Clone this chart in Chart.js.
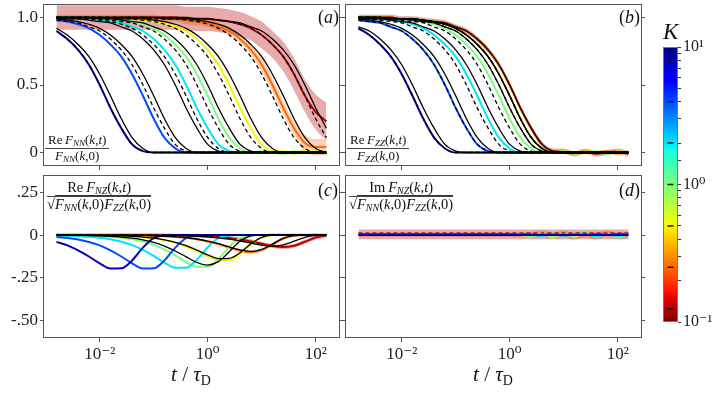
<!DOCTYPE html>
<html>
<head>
<meta charset="utf-8">
<script src="https://cdn.jsdelivr.net/npm/chart.js@4.4.1/dist/chart.umd.min.js"></script>
<style>
  body { margin: 0; background: #fff; }
  #wrap { position: relative; width: 714px; height: 394px; overflow: hidden; font-family: 'Liberation Serif', 'DejaVu Serif', serif; color: #111; }
  .box { position: absolute; }
  .txt { position: absolute; white-space: nowrap; line-height: 1; }
  .frac { position: absolute; display: inline-block; font-size: 13px; line-height: 14px; text-align: center; white-space: nowrap; }
  .frac .num { border-bottom: 1px solid #444; padding: 0 3px 1px; }
  .frac sub { font-size: 9px; vertical-align: -2px; line-height: 0; }
  .frac.wide { font-size: 14.5px; line-height: 15px; }
  .frac.wide sub { font-size: 10px; }
  .rad { border-top: 1px solid #333; }
</style>
</head>
<body>
<div id="wrap">
  <div class="box" style="left:0;top:0"><canvas id="pa" width="350" height="172"></canvas></div>
  <div class="box" style="left:300px;top:0"><canvas id="pb" width="350" height="172"></canvas></div>
  <div class="box" style="left:0;top:170px"><canvas id="pc" width="350" height="224"></canvas></div>
  <div class="box" style="left:300px;top:170px"><canvas id="pd" width="350" height="224"></canvas></div>
  <div class="box" style="left:640px;top:30px"><canvas id="cbar" width="74" height="310"></canvas></div>

  <div class="txt" style="left:318px;top:8px;font-size:18px">(<i>a</i>)</div>
  <div class="txt" style="left:619px;top:8px;font-size:18px">(<i>b</i>)</div>
  <div class="txt" style="left:318px;top:181px;font-size:18px">(<i>c</i>)</div>
  <div class="txt" style="left:619px;top:181px;font-size:18px">(<i>d</i>)</div>

  <div class="frac" style="left:45px;top:133px"><div class="num">Re&thinsp;<i>F</i><sub><i>NN</i></sub>(<i>k</i>,<i>t</i>)</div><div><i>F</i><sub><i>NN</i></sub>(<i>k</i>,0)</div></div>
  <div class="frac" style="left:347px;top:133px"><div class="num">Re&thinsp;<i>F</i><sub><i>ZZ</i></sub>(<i>k</i>,<i>t</i>)</div><div><i>F</i><sub><i>ZZ</i></sub>(<i>k</i>,0)</div></div>
  <div class="frac wide" style="left:47px;top:180px"><div class="num">Re&thinsp;<i>F</i><sub><i>NZ</i></sub>(<i>k</i>,<i>t</i>)</div><div>√<span class="rad"><i>F</i><sub><i>NN</i></sub>(<i>k</i>,0)<i>F</i><sub><i>ZZ</i></sub>(<i>k</i>,0)</span></div></div>
  <div class="frac wide" style="left:349px;top:180px"><div class="num">Im&thinsp;<i>F</i><sub><i>NZ</i></sub>(<i>k</i>,<i>t</i>)</div><div>√<span class="rad"><i>F</i><sub><i>NN</i></sub>(<i>k</i>,0)<i>F</i><sub><i>ZZ</i></sub>(<i>k</i>,0)</span></div></div>

  <div class="txt" style="left:191px;top:364px;font-size:21px;transform:translateX(-50%)"><i>t</i> / <i>τ</i><span style="font-size:14px;position:relative;top:4px">D</span></div>
  <div class="txt" style="left:493px;top:364px;font-size:21px;transform:translateX(-50%)"><i>t</i> / <i>τ</i><span style="font-size:14px;position:relative;top:4px">D</span></div>
  <div class="txt" style="left:663px;top:20px;font-size:23px"><i>K</i></div>
</div>
<script>
// sample times t / tau_D
const times = [0.00158,0.00251,0.00398,0.00631,0.01,0.0158,0.0251,0.0398,0.0631,0.1,0.158,0.251,0.398,0.631,1,1.58,2.51,3.98,6.31,10,15.8,25.1,39.8,63.1,100,158];
const kValues = [8, 4, 2, 1, 0.5, 0.25, 0.125];
const kColors = ['#0000b7', '#004bff', '#00e4f8', '#7bff7b', '#f8f500', '#ff6700', '#b70000'];

const xTicks = [0.01, 1, 100];
const xTickLabels = ['10⁻²', '10⁰', '10²'];
const yTicksTop = [0, 0.5, 1];
const yTickLabelsTop = ['0', '0.5', '1.0'];
const yTicksBottom = [-0.5, -0.25, 0, 0.25];
const yTickLabelsBottom = ['-.50', '-.25', '0', '.25'];
const cbarLabels = ['10⁻¹', '10⁰', '10¹'];

// (a) Re F_NN / F_NN(k,0)
const nnColored = [
  [0.90,0.84,0.76,0.65,0.50,0.33,0.18,0.06,0.01,0,0,0,0,0,0,0,0,0,0,0,0,0,0,0,0,0],
  [0.98,0.97,0.95,0.92,0.87,0.80,0.71,0.58,0.42,0.25,0.11,0.03,0,0,0,0,0,0,0,0,0,0,0,0,0,0],
  [1,1,0.99,0.99,0.98,0.97,0.96,0.93,0.90,0.84,0.76,0.65,0.50,0.33,0.18,0.06,0.01,0,0,0,0,0,0,0,0,0],
  [1,1,1,0.99,0.99,0.99,0.98,0.97,0.95,0.92,0.87,0.80,0.71,0.58,0.42,0.25,0.11,0.03,0,0.01,0,-0.01,0.01,0,0.01,0],
  [1,1,1,1,1,1,0.99,0.99,0.98,0.97,0.96,0.93,0.90,0.84,0.76,0.65,0.50,0.33,0.18,0.06,0.01,0.01,-0.01,0.02,0.01,-0.01],
  [1,1,1,1,1,1,1,1,1,1,0.99,0.99,0.98,0.97,0.96,0.93,0.90,0.84,0.76,0.65,0.50,0.33,0.18,0.07,0.04,0.04],
  [1,1,1,1,1,1,1,1,1,1,1,1,0.99,0.99,0.99,0.98,0.97,0.95,0.92,0.87,0.80,0.71,0.58,0.42,0.30,0.23]
];
const nnDashed = [
  [0.90,0.84,0.76,0.65,0.50,0.33,0.18,0.06,0.01,0,0,0,0,0,0,0,0,0,0,0,0,0,0,0,0,0],
  [0.98,0.97,0.96,0.93,0.90,0.84,0.76,0.65,0.50,0.33,0.18,0.06,0.01,0,0,0,0,0,0,0,0,0,0,0,0,0],
  [1,0.99,0.99,0.99,0.98,0.97,0.95,0.92,0.87,0.80,0.71,0.58,0.42,0.25,0.11,0.03,0,0,0,0,0,0,0,0,0,0],
  [1,1,1,0.99,0.99,0.98,0.97,0.96,0.93,0.90,0.84,0.76,0.65,0.50,0.33,0.18,0.06,0.01,0,0,0,0,0,0,0,0],
  [1,1,1,1,1,0.99,0.99,0.99,0.98,0.97,0.95,0.92,0.87,0.80,0.71,0.58,0.42,0.25,0.11,0.03,0,0,0,0,0,0],
  [1,1,1,1,1,1,1,1,1,0.99,0.99,0.99,0.98,0.97,0.95,0.92,0.87,0.80,0.71,0.58,0.42,0.25,0.11,0.03,0,0],
  [1,1,1,1,1,1,1,1,1,1,1,1,0.99,0.99,0.99,0.98,0.97,0.95,0.92,0.87,0.80,0.71,0.58,0.42,0.25,0.11]
];
const nnSolid = [
  [0.92,0.87,0.80,0.71,0.58,0.42,0.25,0.11,0.03,0,0,0,0,0,0,0,0,0,0,0,0,0,0,0,0,0],
  [0.99,0.98,0.97,0.95,0.92,0.87,0.80,0.71,0.58,0.42,0.25,0.11,0.03,0,0,0,0,0,0,0,0,0,0,0,0,0],
  [1,0.99,0.99,0.98,0.97,0.96,0.93,0.90,0.84,0.76,0.65,0.50,0.33,0.18,0.06,0.01,0,0,0,0,0,0,0,0,0,0],
  [1,1,1,1,0.99,0.99,0.98,0.97,0.96,0.93,0.90,0.84,0.76,0.65,0.50,0.33,0.18,0.06,0.01,0,0,0,0,0,0,0],
  [1,1,1,1,1,1,0.99,0.99,0.99,0.98,0.97,0.95,0.92,0.87,0.80,0.71,0.58,0.42,0.25,0.11,0.03,0,0,0,0,0],
  [1,1,1,1,1,1,1,1,1,1,0.99,0.99,0.99,0.98,0.97,0.95,0.92,0.87,0.80,0.71,0.58,0.42,0.25,0.11,0.03,0],
  [1,1,1,1,1,1,1,1,1,1,1,1,1,0.99,0.99,0.98,0.97,0.96,0.93,0.90,0.84,0.76,0.65,0.50,0.33,0.18]
];
const nnBandRed = [0.09,0.09,0.09,0.09,0.09,0.09,0.09,0.09,0.09,0.09,0.09,0.09,0.09,0.09,0.09,0.09,0.09,0.09,0.09,0.10,0.10,0.11,0.12,0.12,0.13,0.14];
const nnBandOrange = [0.02,0.02,0.02,0.02,0.02,0.02,0.02,0.02,0.02,0.02,0.02,0.02,0.03,0.03,0.03,0.03,0.03,0.03,0.03,0.05,0.05,0.05,0.05,0.06,0.06,0.06];

// (b) Re F_ZZ / F_ZZ(k,0)
const zzColored = [
  [0.92,0.87,0.80,0.71,0.58,0.42,0.25,0.11,0.03,0,0,0,0,0,0,0,0,0,0,0,0,0,0,0,0,0],
  [0.98,0.97,0.96,0.93,0.90,0.84,0.76,0.65,0.50,0.33,0.18,0.06,0.01,0,0,0,0,0,0,0,0,0,0,0,0,0],
  [0.99,0.99,0.99,0.98,0.97,0.95,0.92,0.87,0.80,0.71,0.58,0.42,0.25,0.11,0.03,0,0,0,0,0,0,0,0,0,0,0],
  [1,1,0.99,0.99,0.99,0.98,0.97,0.95,0.92,0.87,0.80,0.71,0.58,0.42,0.25,0.11,0.03,0,0,0.01,-0.01,0,0.01,-0.01,0,0.01],
  [1,1,1,0.99,0.99,0.99,0.98,0.97,0.95,0.92,0.87,0.80,0.71,0.58,0.42,0.25,0.11,0.03,0,0.01,-0.01,0.01,0,-0.01,0.01,0],
  [1,1,1,1,0.99,0.99,0.98,0.97,0.96,0.93,0.90,0.84,0.76,0.65,0.50,0.33,0.18,0.06,0.01,0,-0.01,0.01,0,0.01,-0.01,0],
  [1,1,1,1,0.99,0.99,0.98,0.97,0.96,0.93,0.90,0.84,0.76,0.65,0.50,0.33,0.18,0.06,0.01,0.01,-0.01,0.01,-0.01,0,0.01,-0.01]
];
const zzDashed = [
  [0.92,0.87,0.80,0.71,0.58,0.42,0.25,0.11,0.03,0,0,0,0,0,0,0,0,0,0,0,0,0,0,0,0,0],
  [0.98,0.97,0.96,0.93,0.90,0.84,0.76,0.65,0.50,0.33,0.18,0.06,0.01,0,0,0,0,0,0,0,0,0,0,0,0,0],
  [0.99,0.99,0.98,0.97,0.96,0.93,0.90,0.84,0.76,0.65,0.50,0.33,0.18,0.06,0.01,0,0,0,0,0,0,0,0,0,0,0],
  [1,1,0.99,0.99,0.98,0.97,0.96,0.93,0.90,0.84,0.76,0.65,0.50,0.33,0.18,0.06,0.01,0,0,0,0,0,0,0,0,0],
  [1,1,1,0.99,0.99,0.98,0.97,0.96,0.93,0.90,0.84,0.76,0.65,0.50,0.33,0.18,0.06,0.01,0,0,0,0,0,0,0,0],
  [1,1,1,0.99,0.99,0.99,0.98,0.97,0.95,0.92,0.87,0.80,0.71,0.58,0.42,0.25,0.11,0.03,0,0,0,0,0,0,0,0],
  [1,1,1,0.99,0.99,0.99,0.98,0.97,0.95,0.92,0.87,0.80,0.71,0.58,0.42,0.25,0.11,0.03,0,0,0,0,0,0,0,0]
];
const zzSolid = [
  [0.93,0.90,0.84,0.76,0.65,0.50,0.33,0.18,0.06,0.01,0,0,0,0,0,0,0,0,0,0,0,0,0,0,0,0],
  [0.99,0.98,0.97,0.95,0.92,0.87,0.80,0.71,0.58,0.42,0.25,0.11,0.03,0,0,0,0,0,0,0,0,0,0,0,0,0],
  [1,0.99,0.99,0.98,0.97,0.96,0.93,0.90,0.84,0.76,0.65,0.50,0.33,0.18,0.06,0.01,0,0,0,0,0,0,0,0,0,0],
  [1,1,1,0.99,0.99,0.98,0.97,0.96,0.93,0.90,0.84,0.76,0.65,0.50,0.33,0.18,0.06,0.01,0,0,0,0,0,0,0,0],
  [1,1,1,0.99,0.99,0.99,0.98,0.97,0.95,0.92,0.87,0.80,0.71,0.58,0.42,0.25,0.11,0.03,0,0,0,0,0,0,0,0],
  [1,1,1,0.99,0.99,0.99,0.98,0.97,0.95,0.92,0.87,0.80,0.71,0.58,0.42,0.25,0.11,0.03,0,0,0,0,0,0,0,0],
  [1,1,1,1,0.99,0.99,0.98,0.97,0.96,0.93,0.90,0.84,0.76,0.65,0.50,0.33,0.18,0.06,0.01,0,0,0,0,0,0,0]
];
const zzBandRed = [0.02,0.02,0.02,0.02,0.02,0.02,0.02,0.02,0.02,0.02,0.02,0.02,0.02,0.02,0.02,0.02,0.02,0.02,0.02,0.02,0.02,0.02,0.02,0.02,0.02,0.02];

// (c) Re F_NZ / sqrt(F_NN F_ZZ)
const nzColored = [
  [-0.040,-0.060,-0.089,-0.125,-0.165,-0.195,-0.194,-0.148,-0.073,-0.018,-0.002,0,0,0,0,0,0,0,0,0,0,0,0,0,0,0],
  [-0.011,-0.017,-0.026,-0.040,-0.060,-0.089,-0.125,-0.165,-0.195,-0.194,-0.148,-0.073,-0.018,-0.002,0,0,0,0,0,0,0,0,0,0,0,0],
  [-0.003,-0.004,-0.007,-0.010,-0.016,-0.025,-0.039,-0.059,-0.087,-0.122,-0.161,-0.190,-0.190,-0.144,-0.071,-0.018,-0.002,0,0,0,0,0,0,0,0,0],
  [-0.001,-0.002,-0.003,-0.004,-0.006,-0.010,-0.016,-0.025,-0.038,-0.057,-0.084,-0.119,-0.157,-0.185,-0.185,-0.140,-0.069,-0.017,-0.002,0,0.004,0,0.005,0,0.004,0],
  [0,-0.001,-0.001,-0.001,-0.002,-0.003,-0.005,-0.008,-0.012,-0.020,-0.030,-0.045,-0.067,-0.094,-0.124,-0.146,-0.146,-0.111,-0.055,-0.014,-0.001,0.004,0,0.005,0.003,0],
  [0,0,0,0,0,-0.001,-0.001,-0.002,-0.003,-0.004,-0.007,-0.010,-0.016,-0.025,-0.037,-0.053,-0.073,-0.091,-0.100,-0.088,-0.055,-0.020,-0.003,0,0,0],
  [0,0,0,0,0,0,0,0,0,0,-0.001,-0.002,-0.003,-0.005,-0.007,-0.011,-0.017,-0.026,-0.037,-0.051,-0.064,-0.070,-0.062,-0.039,-0.014,-0.002]
];
const nzSolid = [
  null,
  null,
  null,
  [0,-0.001,-0.002,-0.003,-0.005,-0.007,-0.012,-0.018,-0.028,-0.043,-0.064,-0.093,-0.127,-0.160,-0.175,-0.155,-0.097,-0.035,-0.005,0,0,0,0,0,0,0],
  [0,0,-0.001,-0.001,-0.002,-0.003,-0.005,-0.007,-0.012,-0.018,-0.028,-0.042,-0.062,-0.088,-0.116,-0.137,-0.136,-0.103,-0.051,-0.013,-0.001,0,0,0,0,0],
  [0,0,0,0,0,0,0,-0.002,-0.003,-0.004,-0.006,-0.010,-0.015,-0.023,-0.035,-0.050,-0.069,-0.087,-0.095,-0.084,-0.053,-0.019,-0.003,0,0,0],
  [0,0,0,0,0,0,0,0,0,-0.001,-0.002,-0.003,-0.004,-0.007,-0.010,-0.016,-0.024,-0.035,-0.047,-0.059,-0.065,-0.057,-0.036,-0.013,-0.002,0]
];
const nzDashed = [0,0,0,0,0,0,0,0,0,0,0,0,0,0,0,0,0,0,0,0,0,0,0,0,0,0];
const nzBandRed = [0.01,0.01,0.01,0.01,0.01,0.01,0.01,0.01,0.01,0.01,0.01,0.01,0.01,0.01,0.01,0.01,0.012,0.012,0.012,0.012,0.012,0.012,0.012,0.012,0.012,0.012];
const nzBandOrange = [0.006,0.006,0.006,0.006,0.006,0.006,0.006,0.006,0.006,0.006,0.006,0.006,0.006,0.006,0.006,0.006,0.008,0.008,0.008,0.008,0.008,0.008,0.008,0.008,0.008,0.008];

// (d) Im F_NZ / sqrt(F_NN F_ZZ)
const imColored = [
  [0,0,0,0,0,0,0,0,0,0,0,0,0,0,0,0,0,0,0,0,0,0,0,0,0,0],
  [0.002,0.002,0.002,0.002,0.002,0.002,0.002,0.002,0.002,0.002,0.002,0.002,0.002,0.002,0.002,0.002,0.002,0.002,0.002,0.002,0.002,0.002,0.002,0.002,0.002,0.002],
  [0,0,0,0,0,0,0,0,0,0,0,0,0,0,0,0,0.004,-0.006,0.008,-0.004,0.006,0.010,-0.008,0.004,-0.006,0.002],
  [0,0,0,0,0,0,0,0,0,0,0,0,0,0,0,0.003,-0.008,0.010,-0.010,0.012,-0.006,0.015,-0.010,0.008,-0.012,0.006],
  [0,0,0,0,0,0,0,0,0,0,0,0,0,0,0,0,-0.010,0.012,-0.015,0.008,-0.012,0.015,-0.008,0.010,-0.014,0.006],
  [0,0,0,0,0,0,0,0,0,0,0,0,0,0,0,0,0,0.008,-0.006,0.010,-0.010,0.006,-0.008,0.010,-0.006,0.004],
  [0.004,0.004,0.004,0.004,0.004,0.004,0.004,0.004,0.004,0.004,0.004,0.004,0.004,0.004,0.004,0.004,0.004,0.004,0.004,0.004,0.004,0.004,0.004,0.004,0.004,0.004]
];
const imDashed = [0.012,0.012,0.012,0.012,0.012,0.012,0.012,0.012,0.012,0.012,0.012,0.012,0.012,0.012,0.012,0.012,0.012,0.012,0.012,0.012,0.012,0.012,0.012,0.012,0.012,0.012];
const imBandRed = [0.028,0.028,0.028,0.028,0.028,0.028,0.028,0.028,0.028,0.028,0.028,0.028,0.028,0.028,0.028,0.028,0.028,0.028,0.028,0.028,0.028,0.028,0.028,0.028,0.028,0.028];
const imBandOrange = [0.012,0.012,0.012,0.012,0.012,0.012,0.012,0.012,0.012,0.012,0.012,0.012,0.012,0.012,0.012,0.012,0.018,0.018,0.018,0.018,0.018,0.018,0.018,0.018,0.018,0.018];

// jet colormap stops, top of the colour bar (K = 10) first
const cmapStops = [
  [0, 'rgb(0,0,128)'], [0.11, 'rgb(0,0,255)'], [0.125, 'rgb(0,0,255)'], [0.34, 'rgb(0,219,255)'],
  [0.35, 'rgb(0,229,247)'], [0.375, 'rgb(20,255,226)'], [0.64, 'rgb(239,255,8)'], [0.65, 'rgb(247,245,0)'],
  [0.66, 'rgb(255,236,0)'], [0.89, 'rgb(255,19,0)'], [0.91, 'rgb(232,0,0)'], [1, 'rgb(128,0,0)']
];

const xMin = 0.00089, xMax = 282;
const frameColor = '#555';
Chart.defaults.font.family = "'Liberation Serif', 'DejaVu Serif', serif";
Chart.defaults.color = '#222';

const frame = {
  id: 'frame',
  afterDatasetsDraw(chart) {
    const { ctx, chartArea: a } = chart;
    ctx.save();
    ctx.strokeStyle = chart.options.frameColor || frameColor;
    ctx.lineWidth = 1;
    ctx.strokeRect(a.left + 0.5, a.top + 0.5, a.width - 1, a.height - 1);
    ctx.restore();
  }
};

function pts(arr) {
  return arr.map((v, i) => ({ x: times[i], y: v }));
}

function curve(arr, color, width, dash, order) {
  return {
    data: pts(arr), borderColor: color, borderWidth: width, borderDash: dash || [],
    pointRadius: 0, fill: false, cubicInterpolationMode: 'monotone', order: order
  };
}

function band(center, half, color) {
  const up = center.map((v, i) => v + half[i]);
  const lo = center.map((v, i) => v - half[i]);
  return [
    { data: pts(up), borderColor: 'rgba(0,0,0,0)', borderWidth: 1, pointRadius: 0, fill: false, cubicInterpolationMode: 'monotone', order: 9 },
    { data: pts(lo), borderColor: 'rgba(0,0,0,0)', borderWidth: 1, pointRadius: 0, fill: '-1', backgroundColor: color, cubicInterpolationMode: 'monotone', order: 9 }
  ];
}

function panelSets(bands, colored, solid, dashed, dashColor) {
  const sets = [];
  bands.forEach(b => sets.push(...band(b[0], b[1], b[2])));
  colored.forEach((arr, k) => sets.push(curve(arr, kColors[k], 2, null, 3)));
  solid.forEach(arr => { if (arr) sets.push(curve(arr, '#000', 1.3, null, 2)); });
  dashed.forEach(arr => sets.push(curve(arr, dashColor || '#000', 1.3, [4, 3], 1)));
  return sets;
}

// fixed axis sizes so the plot boxes land where they are in the figure
function fixY(w) {
  return s => { s.width = w; s.paddingTop = 0; s.paddingBottom = 0; };
}
function fixX(h) {
  return s => { s.height = h; s.paddingLeft = 0; s.paddingRight = 0; };
}

function panelOptions(c) {
  const yTickSet = s => { s.ticks = c.yTicks.map(v => ({ value: v })); };
  return {
    responsive: false, animation: false, events: [],
    layout: { padding: { top: c.top, left: 0, right: 0, bottom: 0 } },
    plugins: { legend: { display: false }, tooltip: { enabled: false } },
    scales: {
      x: {
        type: 'logarithmic', min: xMin, max: xMax,
        afterFit: fixX(c.xh),
        afterBuildTicks: s => { s.ticks = xTicks.map(v => ({ value: v })); },
        ticks: { display: c.xLabels, autoSkip: false, maxRotation: 0, padding: 2, font: { size: 17 }, callback: (v, i) => xTickLabels[i] },
        grid: { drawOnChartArea: false, tickLength: 4, color: frameColor }, border: { display: false }
      },
      y: {
        type: 'linear', min: c.ymin, max: c.ymax,
        afterFit: fixY(c.yw),
        afterBuildTicks: yTickSet,
        ticks: { display: c.yLabels, padding: 2, font: { size: 17 }, callback: (v, i) => c.yTickLabels[i] },
        grid: { drawOnChartArea: false, tickLength: 3, color: frameColor }, border: { display: false }
      },
      y2: {
        type: 'linear', position: 'right', min: c.ymin, max: c.ymax,
        afterFit: fixY(c.y2w),
        afterBuildTicks: yTickSet,
        ticks: { display: false },
        grid: { drawOnChartArea: false, tickLength: 3, color: frameColor }, border: { display: false }
      }
    }
  };
}

const redBand = 'rgba(183,0,0,0.33)';
const orangeBand = 'rgba(255,103,0,0.3)';

new Chart(document.getElementById('pa'), {
  type: 'line',
  data: { datasets: panelSets([[nnColored[6], nnBandRed, redBand], [nnColored[5], nnBandOrange, orangeBand]], nnColored, nnSolid, nnDashed) },
  options: panelOptions({ top: 4, xh: 6, yw: 43, y2w: 10, ymin: -0.1, ymax: 1.1, yTicks: yTicksTop, yTickLabels: yTickLabelsTop, xLabels: false, yLabels: true }),
  plugins: [frame]
});

new Chart(document.getElementById('pb'), {
  type: 'line',
  data: { datasets: panelSets([[zzColored[6], zzBandRed, redBand]], zzColored, zzSolid, zzDashed) },
  options: panelOptions({ top: 4, xh: 6, yw: 45, y2w: 8, ymin: -0.1, ymax: 1.1, yTicks: yTicksTop, yTickLabels: yTickLabelsTop, xLabels: false, yLabels: false }),
  plugins: [frame]
});

new Chart(document.getElementById('pc'), {
  type: 'line',
  data: { datasets: panelSets([[nzColored[6], nzBandRed, redBand], [nzColored[5], nzBandOrange, orangeBand]], nzColored, nzSolid, [nzDashed]) },
  options: panelOptions({ top: 5, xh: 56, yw: 43, y2w: 10, ymin: -0.6, ymax: 0.35, yTicks: yTicksBottom, yTickLabels: yTickLabelsBottom, xLabels: true, yLabels: true }),
  plugins: [frame]
});

new Chart(document.getElementById('pd'), {
  type: 'line',
  data: { datasets: panelSets([[imColored[6], imBandRed, redBand], [imColored[5], imBandOrange, orangeBand]], imColored, [], [imDashed], '#a01818') },
  options: panelOptions({ top: 5, xh: 56, yw: 45, y2w: 8, ymin: -0.6, ymax: 0.35, yTicks: yTicksBottom, yTickLabels: yTickLabelsBottom, xLabels: true, yLabels: false }),
  plugins: [frame]
});

function cbarGradient(chart) {
  const a = chart.chartArea;
  if (!a) return null;
  const g = chart.ctx.createLinearGradient(0, a.top, 0, a.bottom);
  cmapStops.forEach(s => g.addColorStop(s[0], s[1]));
  return g;
}

new Chart(document.getElementById('cbar'), {
  type: 'bar',
  data: {
    labels: ['K'],
    datasets: [
      { type: 'line', data: kValues.map(k => ({ x: 'K', y: k })), showLine: false, pointStyle: 'line', pointRadius: 3, pointBorderColor: '#111', pointBorderWidth: 1.5, order: 0 },
      { data: [[0.1, 10]], backgroundColor: ctx => cbarGradient(ctx.chart), barPercentage: 1, categoryPercentage: 1, borderWidth: 0, order: 1 }
    ]
  },
  options: {
    responsive: false, animation: false, events: [],
    frameColor: '#777',
    layout: { padding: { top: 17, left: 23, right: 0, bottom: 18 } },
    plugins: { legend: { display: false }, tooltip: { enabled: false } },
    scales: {
      x: { display: false },
      y: {
        type: 'logarithmic', position: 'right', min: 0.1, max: 10,
        afterFit: fixY(36),
        ticks: {
          autoSkip: false, padding: 2, font: { size: 16 },
          callback: v => {
            const e = Math.round(Math.log10(v));
            return Math.abs(Math.log10(v) - e) < 1e-6 ? cbarLabels[e + 1] : '';
          }
        },
        grid: { drawOnChartArea: false, tickLength: 3, color: '#333' }, border: { display: false }
      }
    }
  },
  plugins: [frame]
});
</script>
</body>
</html>
